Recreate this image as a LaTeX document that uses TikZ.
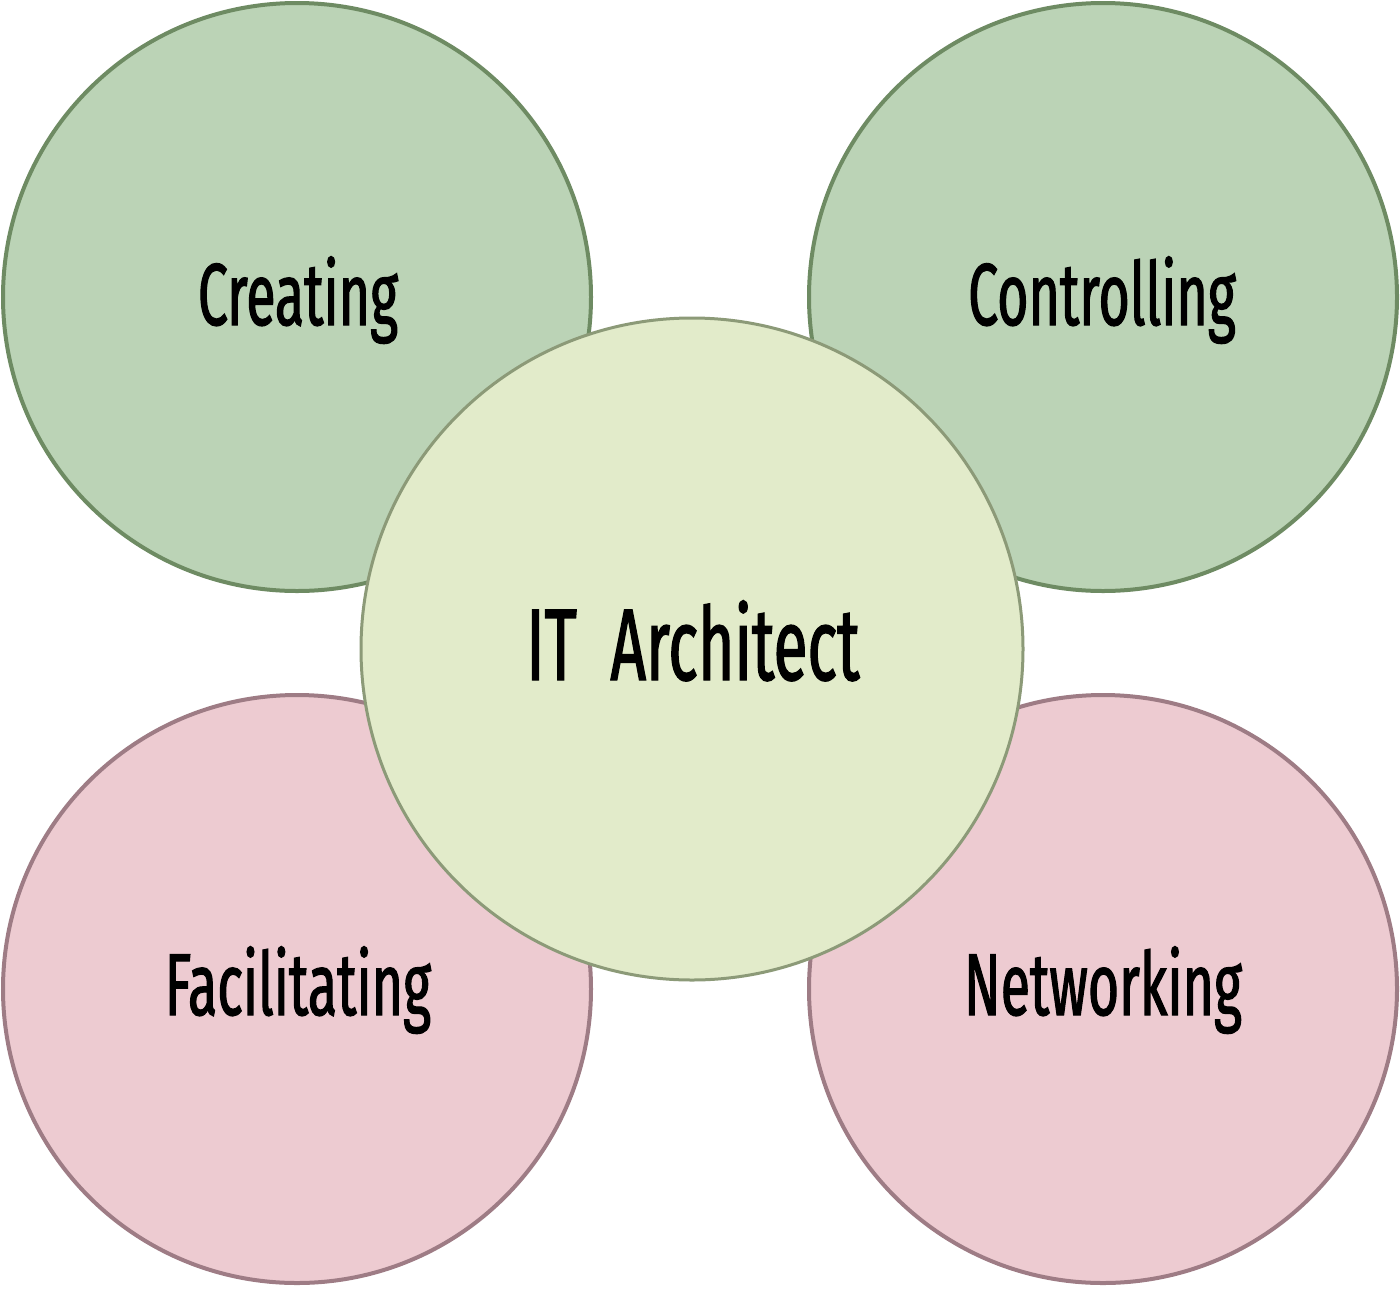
\documentclass[tikz,border=0pt]{standalone}
\usepackage{fontspec}
\newfontfamily\lblfont[FakeStretch=0.61,FakeBold=1.3]{Fira Sans}
\definecolor{gfill}{HTML}{BBD3B6}
\definecolor{gline}{HTML}{6E8B63}
\definecolor{cfill}{HTML}{E2EBCA}
\definecolor{cline}{HTML}{8C9A78}
\definecolor{pfill}{HTML}{EDCBD1}
\definecolor{pline}{HTML}{9E7C85}
\begin{document}
\begin{tikzpicture}[x=1pt,y=-1pt,
  outer/.style={circle,minimum size=588pt,inner sep=0pt,line width=4pt},
  greenc/.style={outer,fill=gfill,draw=gline},
  pinkc/.style={outer,fill=pfill,draw=pline},
  centerc/.style={circle,minimum size=662pt,inner sep=0pt,line width=3pt,fill=cfill,draw=cline},
  lbl/.style={anchor=base,inner sep=0pt,font=\lblfont\fontsize{88}{100}\selectfont},
  biglbl/.style={anchor=base,inner sep=0pt,font=\lblfont\fontsize{102}{110}\selectfont}]
\useasboundingbox (0,0) rectangle (1400,1288);
\node[greenc] (cre) at (297,297) {};
\node[greenc] (con) at (1103,297) {};
\node[pinkc] (fac) at (297,989) {};
\node[pinkc] (net) at (1103,989) {};
\node[centerc] (ita) at (692,649) {};
\node[lbl] (tcre) at (298,325) {Creating};
\node[lbl] (tcon) at (1102,325) {Controlling};
\node[lbl] (tfac) at (298,1015) {Facilitating};
\node[lbl] (tnet) at (1103,1015) {Networking};
\node[biglbl] (tita) at (693,680) {IT\hspace{0.33em}Architect};
\end{tikzpicture}
\end{document}
